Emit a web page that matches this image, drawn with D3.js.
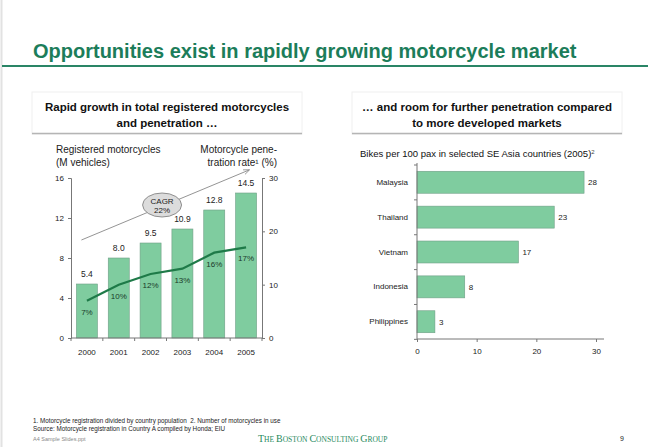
<!DOCTYPE html>
<html>
<head>
<meta charset="utf-8">
<script src="https://cdn.jsdelivr.net/npm/d3@7"></script>
<style>
  html, body { margin: 0; padding: 0; background: #fff; }
  svg { display: block; font-family: "Liberation Sans", Arial, sans-serif; }
</style>
</head>
<body>
<div id="slide"></div>
<script>
// data
const years = ["2000", "2001", "2002", "2003", "2004", "2005"];
const registered = [5.4, 8.0, 9.5, 10.9, 12.8, 14.5];      // M vehicles
const penetration = [7, 10, 12, 13, 16, 17];               // %
const regTicks = [0, 4, 8, 12, 16];
const penTicks = [0, 10, 20, 30];

const countries = ["Malaysia", "Thailand", "Vietnam", "Indonesia", "Philippines"];
const bikes = [28, 23, 17, 8, 3];
const bikeTicks = [0, 10, 20, 30];

const W = 648, H = 447;
const green = "#1c7d5a";
const barFill = "#7fcc9f";
const barStroke = "#6f9f86";
const lineGreen = "#1e7a48";

const svg = d3.select("#slide").append("svg")
    .attr("width", W).attr("height", H);

// slide edge
svg.append("line").attr("x1", 1.5).attr("x2", 1.5).attr("y1", 0).attr("y2", H)
    .attr("stroke", "#e2e2e2").attr("stroke-width", 2);

// title + rule
svg.append("text")
    .attr("x", 33).attr("y", 58)
    .attr("font-size", 20).attr("font-weight", "bold")
    .attr("fill", green)
    .text("Opportunities exist in rapidly growing motorcycle market");
svg.append("line").attr("x1", 2).attr("x2", W).attr("y1", 66).attr("y2", 66)
    .attr("stroke", "#2a8566").attr("stroke-width", 2);

// sub header boxes
function header(x, w, lines) {
    const g = svg.append("g");
    g.append("rect").attr("x", x).attr("y", 92).attr("width", w).attr("height", 42)
        .attr("fill", "#fff").attr("stroke", "#f0f0f0");
    g.append("line").attr("x1", x).attr("x2", x + w).attr("y1", 133.5).attr("y2", 133.5)
        .attr("stroke", "#b5b5b5").attr("stroke-width", 1.5);
    lines.forEach((t, i) => {
        g.append("text").attr("x", x + w / 2).attr("y", 111 + i * 16)
            .attr("text-anchor", "middle").attr("font-size", 11.5).attr("font-weight", "bold")
            .attr("fill", "#111").text(t);
    });
}
header(32, 270, ["Rapid growth in total registered motorcycles", "and penetration \u2026"]);
header(352, 270, ["\u2026 and room for further penetration compared", "to more developed markets"]);

// ---------- left chart ----------
const x = d3.scaleBand().domain(years).range([71, 262]).paddingInner(0.34).paddingOuter(0.17);
const yL = d3.scaleLinear().domain([0, 16]).range([338, 178]);
const yR = d3.scaleLinear().domain([0, 30]).range([338, 178]);

const left = svg.append("g").attr("font-size", 8).attr("fill", "#222");

left.append("text").attr("x", 56).attr("y", 153).attr("font-size", 10).text("Registered motorcycles");
left.append("text").attr("x", 56).attr("y", 166).attr("font-size", 10).text("(M vehicles)");
left.append("text").attr("x", 277).attr("y", 153).attr("font-size", 10)
    .attr("text-anchor", "end").text("Motorcycle pene-");
left.append("text").attr("x", 277).attr("y", 166).attr("font-size", 10)
    .attr("text-anchor", "end").text("tration rate\u00b9 (%)");

// bars
left.selectAll("rect.bar").data(registered).enter().append("rect")
    .attr("class", "bar")
    .attr("x", (d, i) => x(years[i]))
    .attr("width", x.bandwidth())
    .attr("y", d => yL(d))
    .attr("height", d => yL(0) - yL(d))
    .attr("fill", barFill).attr("stroke", barStroke).attr("stroke-width", 0.6);

left.selectAll("text.val").data(registered).enter().append("text")
    .attr("x", (d, i) => x(years[i]) + x.bandwidth() / 2)
    .attr("y", d => yL(d) - 7)
    .attr("text-anchor", "middle").attr("font-size", 8.5)
    .text(d => d.toFixed(1));

// axes
const axL = svg.append("g").attr("transform", "translate(71,0)")
    .call(d3.axisLeft(yL).tickValues(regTicks).tickSize(3).tickPadding(4));
const axR = svg.append("g").attr("transform", "translate(262,0)")
    .call(d3.axisRight(yR).tickValues(penTicks).tickSize(3).tickPadding(4));
const axB = svg.append("g").attr("transform", "translate(0,338)")
    .call(d3.axisBottom(x).tickSize(0).tickPadding(11));
// tick marks between the year bands
svg.append("g").selectAll("line").data(d3.range(years.length + 1)).enter().append("line")
    .attr("x1", i => 71 + i * x.step()).attr("x2", i => 71 + i * x.step())
    .attr("y1", 338).attr("y2", 341).attr("stroke", "#777");

[axL, axR, axB].forEach(a => {
    a.select(".domain").attr("stroke", "#777");
    a.selectAll(".tick line").attr("stroke", "#777");
    a.selectAll(".tick text").attr("font-size", 8).attr("fill", "#222")
        .attr("font-family", "Liberation Sans, Arial, sans-serif");
});
axB.select(".domain").attr("d", "M71,0H262");

// CAGR arrow
const defs = svg.append("defs");
defs.append("marker").attr("id", "arr").attr("viewBox", "0 0 10 10")
    .attr("refX", 9).attr("refY", 5).attr("markerWidth", 7).attr("markerHeight", 7)
    .attr("orient", "auto")
    .append("path").attr("d", "M0,1 L10,5 L0,9").attr("fill", "none").attr("stroke", "#888").attr("stroke-width", 1.2);
svg.append("line").attr("x1", x("2000") + 5).attr("y1", yL(9.8))
    .attr("x2", x("2005") + x.bandwidth() / 2 + 3).attr("y2", yL(16.8))
    .attr("stroke", "#888").attr("stroke-width", 0.9).attr("marker-end", "url(#arr)");
const cagr = svg.append("g").attr("transform", `translate(${x("2002") + 22},${yL(13.3)})`);
cagr.append("ellipse").attr("rx", 19.5).attr("ry", 12)
    .attr("fill", "#dcdcdc").attr("stroke", "#777").attr("stroke-width", 0.8);
cagr.append("text").attr("y", -1.5).attr("text-anchor", "middle").attr("font-size", 8).attr("fill", "#222").text("CAGR");
cagr.append("text").attr("y", 7.5).attr("text-anchor", "middle").attr("font-size", 8).attr("fill", "#222").text("22%");

// penetration line
const line = d3.line()
    .x((d, i) => x(years[i]) + x.bandwidth() / 2)
    .y(d => yR(d));
svg.append("path").datum(penetration)
    .attr("d", line).attr("fill", "none")
    .attr("stroke", lineGreen).attr("stroke-width", 2.2);
svg.append("g").selectAll("text").data(penetration).enter().append("text")
    .attr("x", (d, i) => x(years[i]) + x.bandwidth() / 2)
    .attr("y", d => yR(d) + 14)
    .attr("text-anchor", "middle").attr("font-size", 8).attr("fill", "#1a3a2a")
    .text(d => d + "%");

// ---------- right chart ----------
const xb = d3.scaleLinear().domain([0, 30]).range([417, 596]);
const yb = d3.scaleBand().domain(countries).range([165, 339]).paddingInner(0.37).paddingOuter(0.18);

svg.append("text").attr("x", 360).attr("y", 157).attr("font-size", 9.5).attr("fill", "#111")
    .text("Bikes per 100 pax in selected SE Asia countries (2005)")
    .append("tspan").attr("font-size", 6).attr("dy", -3).attr("fill", "#444").text("2");

svg.append("g").selectAll("rect").data(bikes).enter().append("rect")
    .attr("x", xb(0))
    .attr("y", (d, i) => yb(countries[i]))
    .attr("width", d => xb(d) - xb(0))
    .attr("height", yb.bandwidth())
    .attr("fill", barFill).attr("stroke", barStroke).attr("stroke-width", 0.6);
svg.append("g").selectAll("text").data(bikes).enter().append("text")
    .attr("x", d => xb(d) + 4)
    .attr("y", (d, i) => yb(countries[i]) + yb.bandwidth() / 2 + 3)
    .attr("font-size", 8).attr("fill", "#222")
    .text(d => d);

const axY2 = svg.append("g").attr("transform", "translate(417,0)")
    .call(d3.axisLeft(yb).tickSize(0).tickPadding(9));
axY2.select(".domain").attr("d", "M0,163V339");
svg.append("g").selectAll("line").data(d3.range(countries.length + 1)).enter().append("line")
    .attr("x1", 414).attr("x2", 417)
    .attr("y1", i => 165 + i * yb.step()).attr("y2", i => 165 + i * yb.step())
    .attr("stroke", "#777");
const axX2 = svg.append("g").attr("transform", "translate(0,339)")
    .call(d3.axisBottom(xb).tickValues(bikeTicks).tickSize(3).tickPadding(6));
[axY2, axX2].forEach(a => {
    a.select(".domain").attr("stroke", "#777");
    a.selectAll(".tick line").attr("stroke", "#777");
    a.selectAll(".tick text").attr("font-size", 8).attr("fill", "#222")
        .attr("font-family", "Liberation Sans, Arial, sans-serif");
});
axX2.select(".domain").attr("d", "M417,0H604");

// ---------- footer ----------
const foot = svg.append("g").attr("fill", "#222").attr("font-size", 6.3);
foot.append("text").attr("x", 33).attr("y", 423).style("white-space", "pre")
    .text("1. Motorcycle registration divided by country population  2. Number of motorcycles in use");
foot.append("text").attr("x", 33).attr("y", 431)
    .text("Source: Motorcycle registration in Country A compiled by Honda; EIU");
foot.append("text").attr("x", 33).attr("y", 441).attr("font-size", 5.5).attr("fill", "#888")
    .text("A4 Sample Slides.ppt");
foot.append("text").attr("x", 620).attr("y", 441).attr("font-size", 7).text("9");

const bcg = svg.append("text").attr("x", 258).attr("y", 442)
    .attr("font-family", "Liberation Serif, Times New Roman, serif")
    .attr("fill", "#1f8a5e").attr("font-size", 7.5);
[["T", 10], ["HE ", 7.5], ["B", 10], ["OSTON ", 7.5], ["C", 10], ["ONSULTING ", 7.5], ["G", 10], ["ROUP", 7.5]]
    .forEach(([t, s]) => bcg.append("tspan").attr("font-size", s).text(t));
</script>
</body>
</html>
